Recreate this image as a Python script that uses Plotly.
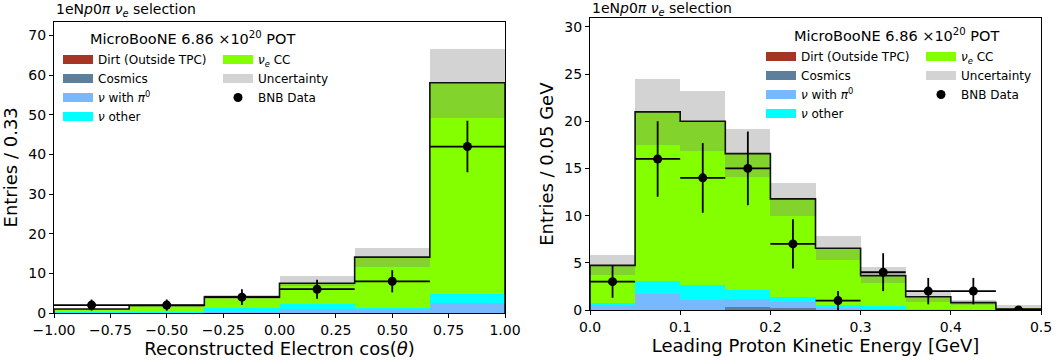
import numpy as np
import plotly.graph_objects as go

# ---------------- data: left panel (cos theta) ----------------
cos_edges = [-1.0, -0.6667, -0.3333, 0.0, 0.3333, 0.6667, 1.0]
cos_dirt = [0.0, 0.0, 0.0, 0.0, 0.0, 0.0]
cos_cosmics = [0.0, 0.0, 0.0, 0.0, 0.0, 0.0]
cos_pi0 = [0.05, 0.10, 0.40, 1.00, 0.75, 2.70]
cos_other = [0.30, 0.25, 1.00, 1.40, 0.60, 2.05]
cos_nue = [0.65, 1.55, 2.60, 5.10, 12.75, 53.35]
cos_unc_lo = [0.15, 0.30, 0.40, 0.60, 2.50, 8.90]
cos_unc_hi = [0.15, 0.30, 0.60, 2.00, 2.50, 8.60]
cos_data = [2, 2, 4, 6, 8, 42]
cos_data_err = [1.4, 1.4, 2.0, 2.4, 2.8, 6.5]
cos_ticks = [-1.0, -0.75, -0.5, -0.25, 0.0, 0.25, 0.5, 0.75, 1.0]

# ---------------- data: right panel (proton KE) ----------------
ke_edges = [0.0, 0.05, 0.10, 0.15, 0.20, 0.25, 0.30, 0.35, 0.40, 0.45, 0.50]
ke_dirt = [0.0, 0.0, 0.0, 0.0, 0.0, 0.0, 0.0, 0.0, 0.0, 0.0]
ke_cosmics = [0.0, 0.0, 0.0, 0.32, 0.20, 0.0, 0.0, 0.0, 0.0, 0.0]
ke_pi0 = [0.60, 1.70, 1.06, 0.85, 0.60, 0.25, 0.05, 0.0, 0.0, 0.0]
ke_other = [0.15, 1.37, 1.59, 0.88, 0.57, 0.21, 0.37, 0.05, 0.02, 0.0]
ke_nue = [3.98, 17.92, 17.35, 14.52, 10.40, 6.08, 3.22, 1.36, 0.76, 0.10]
ke_unc_lo = [1.02, 3.59, 3.20, 2.54, 1.87, 1.24, 0.78, 0.56, 0.28, 0.10]
ke_unc_hi = [1.03, 3.48, 3.20, 2.53, 1.69, 1.23, 0.85, 0.49, 0.28, 0.36]
ke_data = [3, 16, 14, 15, 7, 1, 4, 2, 2, 0]
ke_data_err = [1.7, 4.0, 3.7, 3.9, 2.6, 1.0, 2.0, 1.4, 1.4, 0.0]
ke_ticks = [0.0, 0.1, 0.2, 0.3, 0.4, 0.5]

# ---------------- styles ----------------
FONT = "DejaVu Sans"
C_DIRT = "#a53524"
C_COSMICS = "#5c7f9e"
C_PI0 = "#76b9fd"
C_OTHER = "#00ffff"
C_NUE = "#84ff00"
C_UNC = "rgba(128,128,128,0.35)"

W, H = 1058, 364
ML, MR, MT, MB = 54, 17, 10, 51
PW, PH = W - ML - MR, H - MT - MB


def px_x(p):
    return (p - ML) / PW


def px_y(p):
    return (H - MB - p) / PH


fig = go.Figure()


def add_panel(xa, ya, edges, comps, unc_lo, unc_hi, data, data_err, leg_a, leg_b):
    edges = np.array(edges)
    centers = 0.5 * (edges[:-1] + edges[1:])
    widths = edges[1:] - edges[:-1]
    base = np.zeros(len(centers))
    for name, vals, col in comps:
        vals = np.array(vals, dtype=float)
        fig.add_trace(go.Bar(x=centers, y=vals, base=base.copy(), width=widths,
                             marker=dict(color=col, line=dict(width=0)),
                             xaxis=xa, yaxis=ya, showlegend=False, name=name,
                             hoverinfo="skip"))
        base = base + vals
    total = base
    lo = np.array(unc_lo)
    hi = np.array(unc_hi)
    fig.add_trace(go.Bar(x=centers, y=lo + hi, base=total - lo, width=widths,
                         marker=dict(color=C_UNC, line=dict(width=0)),
                         xaxis=xa, yaxis=ya, showlegend=False, name="Uncertainty",
                         hoverinfo="skip"))
    # step line of total prediction
    sx = [edges[0]] + list(edges[:-1]) + [edges[-1], edges[-1]]
    sy = [0.0] + list(total) + [total[-1], 0.0]
    fig.add_trace(go.Scatter(x=sx, y=sy, mode="lines", line=dict(color="#111111", width=1.6, shape="hv"),
                             xaxis=xa, yaxis=ya, showlegend=False, hoverinfo="skip"))
    # legend-only swatches
    names_a = [("Dirt (Outside TPC)", C_DIRT), ("Cosmics", C_COSMICS),
               ("<i>ν</i> with <i>π</i><sup>0</sup>", C_PI0), ("<i>ν</i> other", C_OTHER)]
    for nm, col in names_a:
        fig.add_trace(go.Scatter(x=[None], y=[None], mode="lines", name=nm,
                                 line=dict(color=col, width=9), xaxis=xa, yaxis=ya, legend=leg_a))
    for nm, col in [("<i>ν<sub>e</sub></i> CC", C_NUE), ("Uncertainty", C_UNC)]:
        fig.add_trace(go.Scatter(x=[None], y=[None], mode="lines", name=nm,
                                 line=dict(color=col, width=9), xaxis=xa, yaxis=ya, legend=leg_b))
    fig.add_trace(go.Scatter(x=centers, y=data, mode="markers", name="BNB Data",
                             marker=dict(color="black", size=9),
                             error_x=dict(type="data", array=widths / 2, color="black", thickness=1.8, width=0),
                             error_y=dict(type="data", array=data_err, color="black", thickness=1.8, width=0),
                             xaxis=xa, yaxis=ya, legend=leg_b))


add_panel("x", "y", cos_edges,
          [("Dirt (Outside TPC)", cos_dirt, C_DIRT), ("Cosmics", cos_cosmics, C_COSMICS),
           ("ν with π0", cos_pi0, C_PI0), ("ν other", cos_other, C_OTHER), ("νe CC", cos_nue, C_NUE)],
          cos_unc_lo, cos_unc_hi, cos_data, cos_data_err, "legend", "legend2")
add_panel("x2", "y2", ke_edges,
          [("Dirt (Outside TPC)", ke_dirt, C_DIRT), ("Cosmics", ke_cosmics, C_COSMICS),
           ("ν with π0", ke_pi0, C_PI0), ("ν other", ke_other, C_OTHER), ("νe CC", ke_nue, C_NUE)],
          ke_unc_lo, ke_unc_hi, ke_data, ke_data_err, "legend3", "legend4")

axis_common = dict(showline=True, linecolor="black", linewidth=1, mirror=True, showgrid=False,
                   zeroline=False, ticks="outside", ticklen=4, tickwidth=1, tickcolor="black",
                   automargin=False,
                   tickfont=dict(family=FONT, size=14, color="black"))
TITLE_FONT = dict(family=FONT, size=18, color="black")

leg_common = dict(font=dict(family=FONT, size=12, color="black"), bgcolor="rgba(0,0,0,0)",
                  xanchor="left", yanchor="top", tracegroupgap=0, itemclick=False)

fig.update_layout(
    width=W, height=H,
    margin=dict(l=ML, r=MR, t=MT, b=MB),
    paper_bgcolor="white", plot_bgcolor="white",
    barmode="overlay", bargap=0,
    font=dict(family=FONT, color="black"),
    xaxis=dict(domain=[0, px_x(505)], range=[-1, 1], tickvals=cos_ticks, tickformat=".2f",
               title=dict(text="Reconstructed Electron cos(<i>θ</i>)", font=TITLE_FONT, standoff=4),
               anchor="y", **axis_common),
    yaxis=dict(domain=[0, px_y(21.7)], range=[0, 73.5], dtick=10,
               title=dict(text="Entries / 0.33", font=TITLE_FONT, standoff=6),
               anchor="x", **axis_common),
    xaxis2=dict(domain=[px_x(590), 1], range=[0, 0.5], tickvals=ke_ticks, tickformat=".1f",
                title=dict(text="Leading Proton Kinetic Energy [GeV]", font=TITLE_FONT, standoff=4),
                anchor="y2", **axis_common),
    yaxis2=dict(domain=[px_y(310), px_y(18.3)], range=[0, 30.9], dtick=5,
                title=dict(text="Entries / 0.05 GeV", font=TITLE_FONT, standoff=6),
                anchor="x2", **axis_common),
    legend=dict(x=px_x(58), y=px_y(45), **leg_common),
    legend2=dict(x=px_x(218), y=px_y(45), **leg_common),
    legend3=dict(x=px_x(761), y=px_y(42), **leg_common),
    legend4=dict(x=px_x(921), y=px_y(42), **leg_common),
)

sel = "1eN<i>p</i>0<i>π</i> <i>ν<sub>e</sub></i> selection"
pot = "MicroBooNE 6.86 ×10<sup>20</sup> POT"
fig.add_annotation(x=px_x(54), y=px_y(10), xref="paper", yref="paper", text=sel, showarrow=False,
                   xanchor="left", yanchor="middle", font=dict(family=FONT, size=14, color="black"))
fig.add_annotation(x=px_x(590), y=px_y(9), xref="paper", yref="paper", text=sel, showarrow=False,
                   xanchor="left", yanchor="middle", font=dict(family=FONT, size=14, color="black"))
fig.add_annotation(x=px_x(88), y=px_y(38), xref="paper", yref="paper", text=pot, showarrow=False,
                   xanchor="left", yanchor="middle", font=dict(family=FONT, size=14.5, color="black"))
fig.add_annotation(x=px_x(792), y=px_y(35), xref="paper", yref="paper", text=pot, showarrow=False,
                   xanchor="left", yanchor="middle", font=dict(family=FONT, size=14.5, color="black"))

fig.write_html("out.html", config={"displayModeBar": False},
               post_script="document.body.style.margin='0px';")
